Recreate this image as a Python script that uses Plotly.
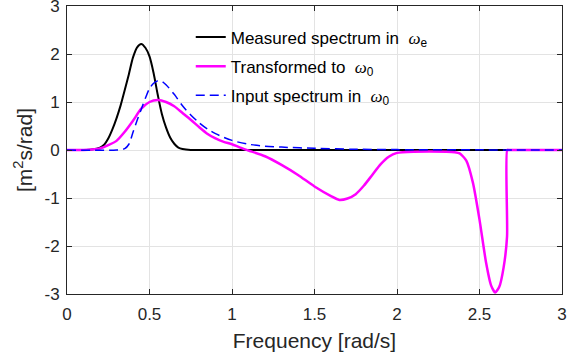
import plotly.graph_objects as go

# Measured spectrum in omega_e (black)
meas_x = [0.0, 0.10, 0.15, 0.20, 0.225, 0.25, 0.275, 0.30, 0.325, 0.35, 0.375, 0.40, 0.425, 0.45,
          0.475, 0.50, 0.525, 0.55, 0.575, 0.60, 0.625, 0.65, 0.675, 0.70, 0.75, 0.80, 3.0]
meas_y = [0.0, 0.0, 0.01, 0.05, 0.11, 0.24, 0.43, 0.66, 0.93, 1.25, 1.58, 1.93, 2.14, 2.21,
          2.13, 1.95, 1.60, 1.15, 0.75, 0.47, 0.26, 0.13, 0.05, 0.02, 0.0, 0.0, 0.0]

# Transformed to omega_0 (magenta)
trans_x = [0.0, 0.10, 0.15, 0.20, 0.25, 0.30, 0.35, 0.40, 0.45, 0.50, 0.55, 0.60, 0.65, 0.70, 0.75,
           0.80, 0.85, 0.90, 0.95, 1.00, 1.05, 1.10, 1.20, 1.30, 1.40, 1.50, 1.60, 1.65, 1.70,
           1.75, 1.80, 1.85, 1.90, 1.95, 2.00, 2.10, 2.30, 2.35, 2.38, 2.42, 2.46, 2.50, 2.54,
           2.57, 2.595, 2.62, 2.646, 2.667, 2.668, 2.68, 3.0]
trans_y = [0.0, 0.002, 0.01, 0.03, 0.10, 0.19, 0.38, 0.61, 0.86, 1.00, 1.04, 1.00, 0.91, 0.77, 0.63,
           0.48, 0.34, 0.24, 0.17, 0.12, 0.05, -0.01, -0.13, -0.31, -0.52, -0.76, -0.96, -1.04, -1.01,
           -0.92, -0.74, -0.52, -0.30, -0.14, -0.06, -0.035, -0.035, -0.045, -0.07, -0.22, -0.68,
           -1.45, -2.35, -2.82, -2.97, -2.85, -2.45, -1.80, 0.0, 0.0, 0.0]

# Input spectrum in omega_0 (blue dashed)
inp_x = [0.0, 0.30, 0.35, 0.375, 0.40, 0.425, 0.45, 0.475, 0.50, 0.525, 0.55, 0.575, 0.60, 0.65,
         0.70, 0.75, 0.80, 0.85, 0.90, 1.00, 1.10, 1.20, 1.30, 1.50, 1.75, 2.00, 2.50, 3.0]
inp_y = [0.0, 0.0, 0.03, 0.12, 0.37, 0.62, 0.85, 1.08, 1.28, 1.39, 1.44, 1.43, 1.36, 1.16,
         0.92, 0.73, 0.57, 0.44, 0.34, 0.20, 0.12, 0.08, 0.06, 0.035, 0.015, 0.008, 0.003, 0.0]

x_ticks = [0, 0.5, 1, 1.5, 2, 2.5, 3]
y_ticks = [-3, -2, -1, 0, 1, 2, 3]

W = "<span style='font-family:Liberation Serif'><i>ω</i></span>"

fig = go.Figure()
fig.add_trace(go.Scatter(x=meas_x, y=meas_y, mode="lines",
                         line=dict(color="black", width=2, shape="spline", smoothing=0.8),
                         name="Measured spectrum in  " + W + "<sub>e</sub>", legendgroup="a"))
fig.add_trace(go.Scatter(x=trans_x, y=trans_y, mode="lines",
                         line=dict(color="#ff00ff", width=2.5, shape="spline", smoothing=0.6),
                         name="Transformed to  " + W + "<sub>0</sub>", legendgroup="b"))
fig.add_trace(go.Scatter(x=inp_x, y=inp_y, mode="lines",
                         line=dict(color="#0000ff", width=1.5, dash="9px,5px", shape="spline", smoothing=0.8),
                         name="Input spectrum in  " + W + "<sub>0</sub>", legendgroup="c"))

axis_common = dict(showline=True, linecolor="#262626", linewidth=1, mirror="ticks", ticks="inside",
                   ticklen=5, tickcolor="#262626", showgrid=True, gridcolor="#e3e3e3", gridwidth=1,
                   zeroline=False, ticklabeloverflow="allow", automargin=False,
                   tickfont=dict(family="Liberation Sans", size=17, color="#262626"))

fig.update_xaxes(range=[0, 3], tickvals=x_ticks, ticktext=[str(v) for v in x_ticks], ticklabelstandoff=5,
                 title=dict(text="Frequency [rad/s]", font=dict(family="Liberation Sans", size=21, color="#262626"),
                            standoff=9), **axis_common)
fig.update_yaxes(range=[-3, 3], tickvals=y_ticks, ticktext=[str(v) for v in y_ticks], ticklabelstandoff=3,
                 title=dict(text="[m<sup>2</sup>s/rad]", font=dict(family="Liberation Sans", size=21, color="#262626"),
                            standoff=6), **axis_common)

fig.update_layout(width=568, height=359, margin=dict(l=67, r=6, t=6, b=65),
                  plot_bgcolor="white", paper_bgcolor="white", showlegend=True,
                  legend=dict(x=0.25, y=0.953, xanchor="left", yanchor="top", bgcolor="rgba(0,0,0,0)",
                              borderwidth=0, traceorder="grouped", tracegroupgap=4,
                              font=dict(family="Liberation Sans", size=17, color="black")))

fig.write_html("out.html")
